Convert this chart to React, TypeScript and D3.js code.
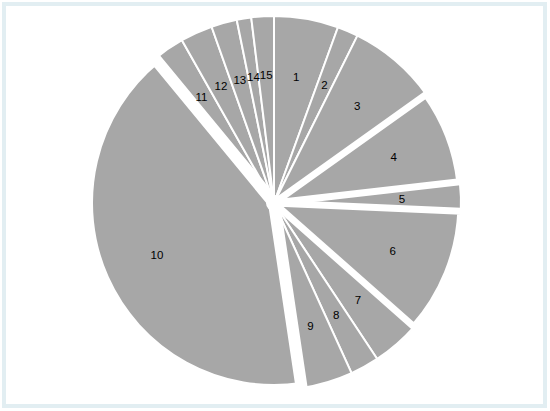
import React, { useEffect, useRef } from 'react';
import * as d3 from 'd3';

// slice labels and sizes (in degrees of the circle)
const labels = ['1', '2', '3', '4', '5', '6', '7', '8', '9', '10', '11', '12', '13', '14', '15'];
const values = [20, 6.5, 28, 29, 9, 39, 15, 9, 16, 149, 10, 10, 8, 4.5, 7];
// slices pulled apart from their neighbours
const separated = ['4', '6', '10'];

const App = () => {
    const svgRef = useRef<SVGSVGElement>(null);

    useEffect(() => {
        const svg = d3.select(svgRef.current);
        svg.selectAll('*').remove();

        const width = 550;
        const height = 411;
        const cx = 274;
        const cy = 203;
        const radius = 187;

        // frame
        svg.append('rect')
            .attr('x', 4)
            .attr('y', 4)
            .attr('width', width - 9)
            .attr('height', height - 9)
            .attr('fill', '#fff')
            .attr('stroke', '#e2eef2')
            .attr('stroke-width', 4);

        const data = labels.map((label, i) => ({ label, value: values[i] }));

        const pie = d3.pie<{ label: string; value: number }>()
            .sort(null)
            .value(d => d.value);

        const arc = d3.arc<d3.PieArcDatum<{ label: string; value: number }>>()
            .innerRadius(0)
            .outerRadius(radius);

        const labelArc = d3.arc<d3.PieArcDatum<{ label: string; value: number }>>()
            .innerRadius(radius * 0.685)
            .outerRadius(radius * 0.685);

        const arcs = pie(data);
        const gap = (label: string) => (label === '10' ? 12 : separated.includes(label) ? 7 : 2);

        const g = svg.append('g').attr('transform', `translate(${cx},${cy})`);

        // plain slices first, separated ones on top so their wide border cuts the neighbours
        const ordered = [...arcs].sort(
            (a, b) => Number(separated.includes(a.data.label)) - Number(separated.includes(b.data.label))
        );

        g.selectAll('path')
            .data(ordered)
            .join('path')
            .attr('d', arc)
            .attr('fill', '#a7a7a7')
            .attr('stroke', '#fff')
            .attr('stroke-linejoin', 'round')
            .attr('stroke-width', d => gap(d.data.label));

        g.append('circle').attr('r', 8).attr('fill', '#fff');

        g.selectAll('text')
            .data(arcs)
            .join('text')
            .attr('transform', d => `translate(${labelArc.centroid(d)})`)
            .attr('text-anchor', 'middle')
            .attr('dy', '0.35em')
            .attr('font-family', '"Liberation Sans", Arial, sans-serif')
            .attr('font-size', 11.5)
            .attr('fill', '#000')
            .text(d => d.data.label);
    }, []);

    return (
        <svg
            ref={svgRef}
            width={550}
            height={411}
            style={{ position: 'absolute', left: 0, top: 0 }}
        ></svg>
    );
};

export default App;
